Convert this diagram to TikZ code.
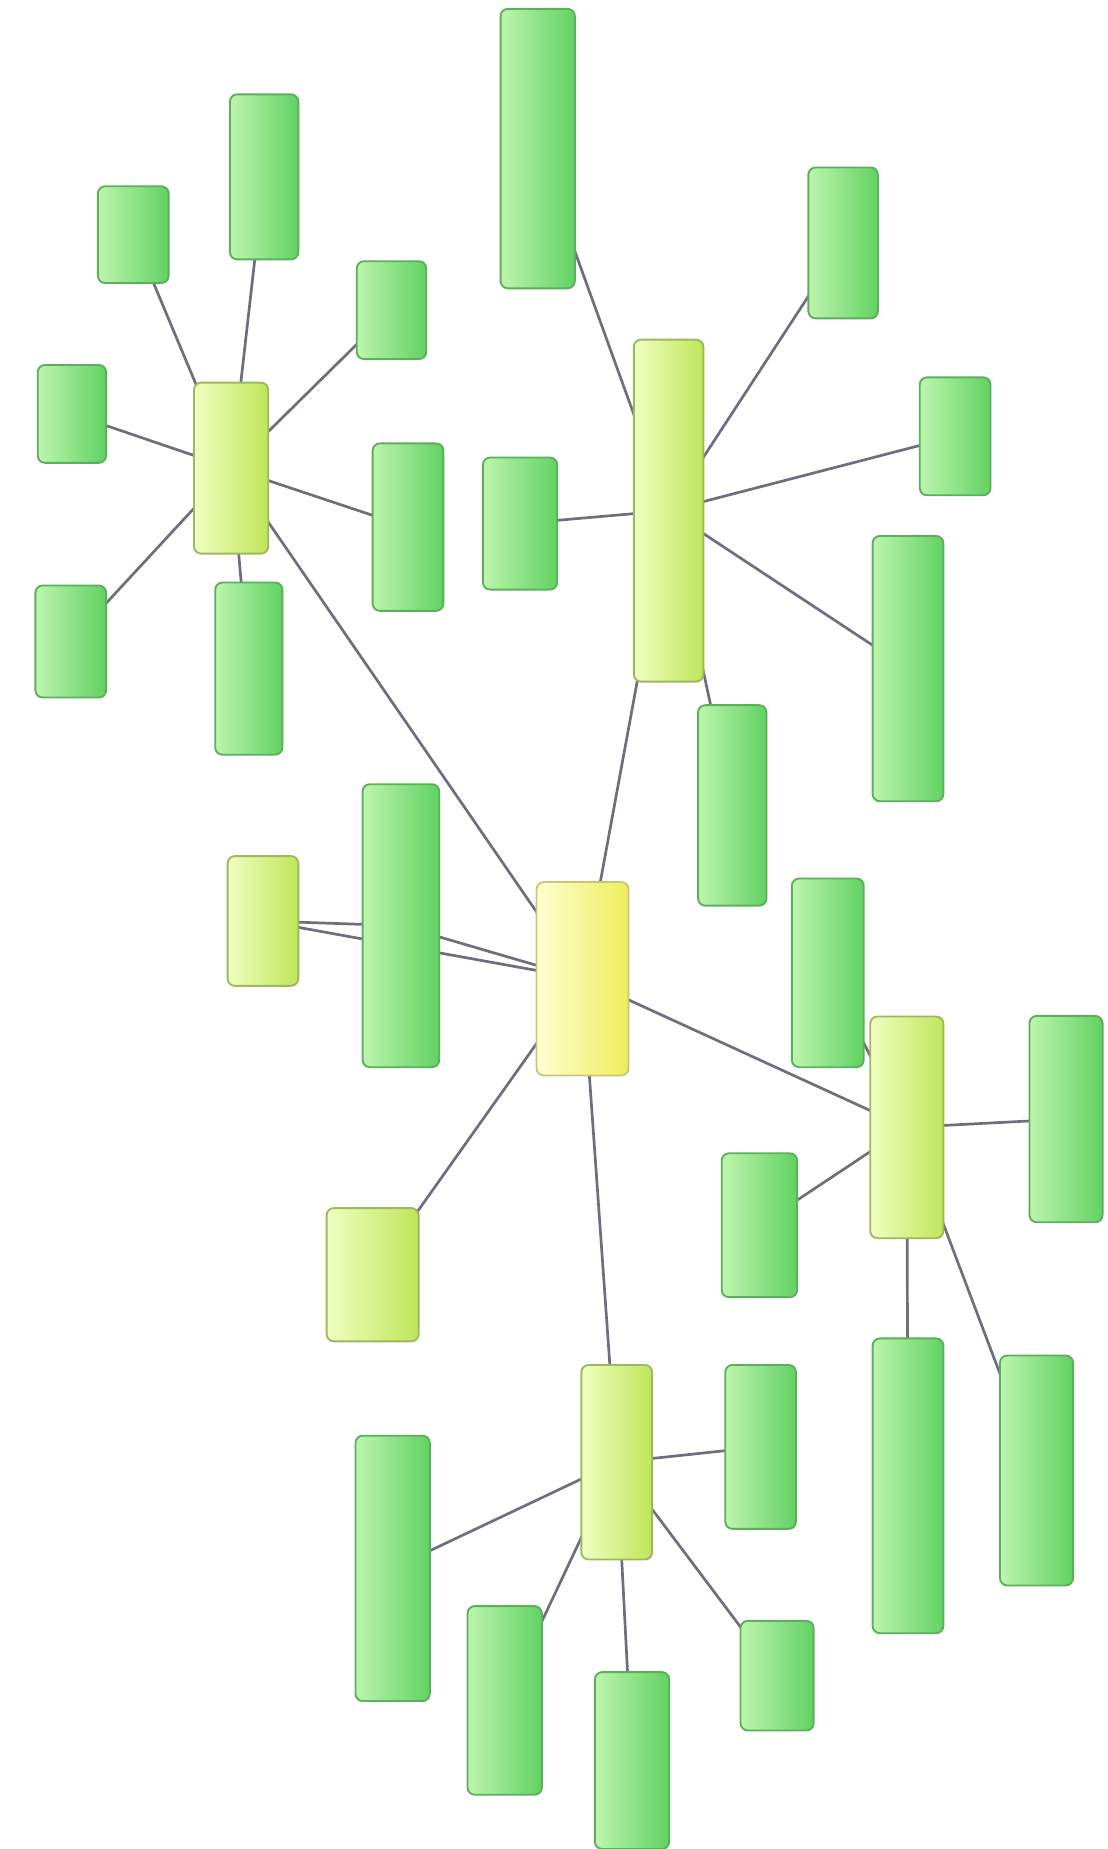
\documentclass[tikz,border=0pt]{standalone}
\usetikzlibrary{backgrounds}
\definecolor{leafL}{HTML}{BDF5AE}
\definecolor{leafR}{HTML}{62D262}
\definecolor{leafB}{HTML}{5DAE5D}
\definecolor{hubL}{HTML}{F0FFC0}
\definecolor{hubR}{HTML}{BFE65A}
\definecolor{hubB}{HTML}{9DB85E}
\definecolor{rootL}{HTML}{FFFFD2}
\definecolor{rootR}{HTML}{EEEE5C}
\definecolor{rootB}{HTML}{C9C676}
\definecolor{linkC}{HTML}{6E6E80}
\tikzset{
  sz/.style 2 args={minimum width=#1*0.02cm, minimum height=#2*0.02cm},
  box/.style={rectangle, rounded corners=3.5pt, inner sep=0pt, line width=0.9pt},
  leaf/.style={box, draw=leafB, left color=leafL, right color=leafR},
  hub/.style={box, draw=hubB, left color=hubL, right color=hubR},
  root/.style={box, draw=rootB, left color=rootL, right color=rootR},
  link/.style={draw=linkC, line width=1.3pt}
}
\begin{document}
\begin{tikzpicture}[x=0.02cm, y=-0.02cm]
  \useasboundingbox (0,0) rectangle (939,1568);
  % centre
  \node[root, sz={78}{164}] (root) at (494,830) {};
  % north-west group
  \node[hub, sz={63}{145}] (hubNW) at (196,397) {};
  \node[leaf, sz={60}{82}] (nwA) at (113,199) {};
  \node[leaf, sz={58}{140}] (nwB) at (224,150) {};
  \node[leaf, sz={59}{83}] (nwC) at (332,263) {};
  \node[leaf, sz={60}{142}] (nwD) at (346,447) {};
  \node[leaf, sz={57}{146}] (nwE) at (211,567) {};
  \node[leaf, sz={60}{95}] (nwF) at (60,544) {};
  \node[leaf, sz={58}{83}] (nwG) at (61,351) {};
  % north-east group
  \node[hub, sz={59}{290}] (hubNE) at (567,433) {};
  \node[leaf, sz={63}{237}] (neA) at (456,126) {};
  \node[leaf, sz={59}{128}] (neB) at (715,206) {};
  \node[leaf, sz={60}{100}] (neC) at (810,370) {};
  \node[leaf, sz={60}{225}] (neD) at (770,567) {};
  \node[leaf, sz={58}{170}] (neE) at (621,683) {};
  \node[leaf, sz={63}{112}] (neF) at (441,444) {};
  % west
  \node[hub, sz={60}{110}] (wLabel) at (223,781) {};
  \node[leaf, sz={65}{240}] (wTall) at (340,785) {};
  \node[hub, sz={78}{113}] (swBox) at (316,1081) {};
  % east group
  \node[hub, sz={62}{188}] (hubE) at (769,956) {};
  \node[leaf, sz={61}{160}] (eA) at (702,825) {};
  \node[leaf, sz={62}{175}] (eB) at (904,949) {};
  \node[leaf, sz={64}{122}] (eC) at (644,1039) {};
  \node[leaf, sz={60}{250}] (eD) at (770,1260) {};
  \node[leaf, sz={62}{195}] (eE) at (879,1247) {};
  % south group
  \node[hub, sz={60}{165}] (hubS) at (523,1240) {};
  \node[leaf, sz={60}{139}] (sA) at (645,1227) {};
  \node[leaf, sz={63}{225}] (sB) at (333,1330) {};
  \node[leaf, sz={63}{160}] (sC) at (428,1442) {};
  \node[leaf, sz={63}{150}] (sD) at (536,1493) {};
  \node[leaf, sz={62}{93}] (sE) at (659,1421) {};

  \begin{pgfonlayer}{background}
    \foreach \t in {hubNW, hubNE, hubE, hubS, wTall, wLabel, swBox}
      \draw[link] (root.center) -- (\t.center);
    \draw[link] (wLabel.center) -- (wTall.center);
    \foreach \t in {nwA, nwB, nwC, nwD, nwE, nwF, nwG}
      \draw[link] (hubNW.center) -- (\t.center);
    \foreach \t in {neA, neB, neC, neD, neE, neF}
      \draw[link] (hubNE.center) -- (\t.center);
    \foreach \t in {eA, eB, eC, eD, eE}
      \draw[link] (hubE.center) -- (\t.center);
    \foreach \t in {sA, sB, sC, sD, sE}
      \draw[link] (hubS.center) -- (\t.center);
  \end{pgfonlayer}
\end{tikzpicture}
\end{document}
